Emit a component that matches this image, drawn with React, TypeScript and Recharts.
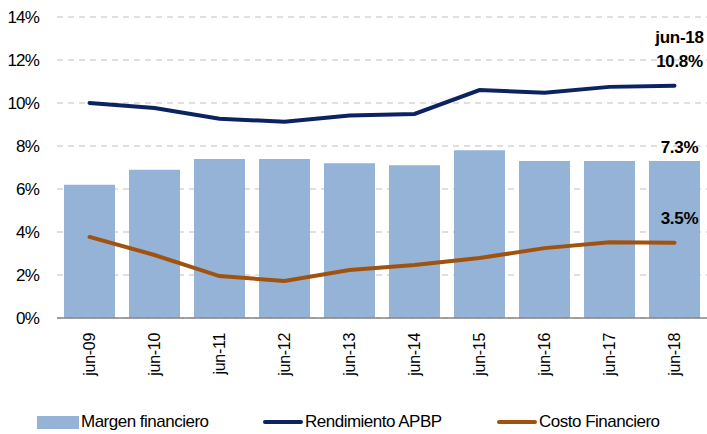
import React from "react";
import {
  Bar,
  CartesianGrid,
  ComposedChart,
  LabelList,
  Line,
  XAxis,
  YAxis,
} from "recharts";

const periods = ["jun-09", "jun-10", "jun-11", "jun-12", "jun-13", "jun-14", "jun-15", "jun-16", "jun-17", "jun-18"];
const margenFinanciero = [6.2, 6.9, 7.4, 7.4, 7.2, 7.1, 7.8, 7.3, 7.3, 7.3];
const rendimientoAPBP = [10.0, 9.77, 9.27, 9.13, 9.42, 9.49, 10.6, 10.48, 10.75, 10.8];
const costoFinanciero = [3.77, 2.93, 1.95, 1.72, 2.23, 2.46, 2.79, 3.25, 3.52, 3.5];
const yTicks = [0, 2, 4, 6, 8, 10, 12, 14];

const FONT = "'Liberation Sans', Arial, sans-serif";
const BAR_COLOR = "#95B3D7";
const NAVY = "#0B2461";
const BROWN = "#A0520F";

const chartData = periods.map((period, i) => ({
  period,
  margen: margenFinanciero[i],
  rendimiento: rendimientoAPBP[i],
  costo: costoFinanciero[i],
}));

const lastIndex = periods.length - 1;

function XTick({ x, y, payload }: any) {
  return (
    <g transform={`translate(${x}, ${y + 7}) rotate(-90)`}>
      <text
        x={0}
        y={0}
        dy="0.36em"
        textAnchor="end"
        fontFamily={FONT}
        fontSize={16}
        letterSpacing={-0.3}
        fill="#000"
      >
        {payload.value}
      </text>
    </g>
  );
}

function lastLabel(offset: number, extra?: string) {
  return (props: any) => {
    const { x, y, width, index, value } = props;
    if (index !== lastIndex) return null;
    const cx = (width ? x + width / 2 : x) + 5;
    return (
      <g fontFamily={FONT} fontWeight="bold" fontSize={17} letterSpacing={-0.3} fill="#000" textAnchor="middle">
        {extra && (
          <text x={cx} y={y - offset - 24}>
            {extra}
          </text>
        )}
        <text x={cx} y={y - offset}>
          {`${value.toFixed(1)}%`}
        </text>
      </g>
    );
  };
}

const legendItems = [
  { name: "Margen financiero", kind: "bar", color: BAR_COLOR, x: 37 },
  { name: "Rendimiento APBP", kind: "line", color: NAVY, x: 263 },
  { name: "Costo Financiero", kind: "line", color: BROWN, x: 497 },
];

export default function App() {
  return (
    <div style={{ position: "absolute", left: 0, top: 0, width: 707, height: 434, background: "#fff" }}>
      <ComposedChart
        width={707}
        height={434}
        data={chartData}
        margin={{ top: 17, right: 0, bottom: 0, left: 0 }}
        barSize={51}
      >
        <CartesianGrid
          vertical={false}
          stroke="#BFBFBF"
          strokeDasharray="6 5"
          strokeWidth={1}
        />
        <XAxis
          dataKey="period"
          interval={0}
          height={116}
          tickLine={false}
          axisLine={{ stroke: "#868686", strokeWidth: 1.5 }}
          tick={<XTick />}
        />
        <YAxis
          width={57}
          domain={[0, 14]}
          ticks={yTicks}
          axisLine={false}
          tickLine={false}
          tickFormatter={(v) => `${v}%`}
          tick={{ fontFamily: FONT, fontSize: 17, letterSpacing: -0.8, fill: "#000" }}
          tickMargin={12}
        />
        <Bar dataKey="margen" fill={BAR_COLOR} isAnimationActive={false}>
          <LabelList dataKey="margen" content={lastLabel(8)} />
        </Bar>
        <Line
          dataKey="rendimiento"
          stroke={NAVY}
          strokeWidth={4}
          dot={false}
          strokeLinecap="round"
          isAnimationActive={false}
        >
          <LabelList dataKey="rendimiento" content={lastLabel(19, "jun-18")} />
        </Line>
        <Line
          dataKey="costo"
          stroke={BROWN}
          strokeWidth={4}
          dot={false}
          strokeLinecap="round"
          isAnimationActive={false}
        >
          <LabelList dataKey="costo" content={lastLabel(19)} />
        </Line>
      </ComposedChart>
      {legendItems.map((item) => (
        <div
          key={item.name}
          style={{
            position: "absolute",
            left: item.x,
            top: 412,
            display: "flex",
            alignItems: "center",
            fontFamily: FONT,
            fontSize: 17,
            letterSpacing: -0.5,
            color: "#000",
            whiteSpace: "nowrap",
          }}
        >
          {item.kind === "bar" ? (
            <span style={{ display: "inline-block", width: 42, height: 13, background: item.color, marginRight: 2 }} />
          ) : (
            <span style={{ display: "inline-block", width: 40, height: 4, borderRadius: 2, background: item.color, marginRight: 2 }} />
          )}
          <span>{item.name}</span>
        </div>
      ))}
    </div>
  );
}
